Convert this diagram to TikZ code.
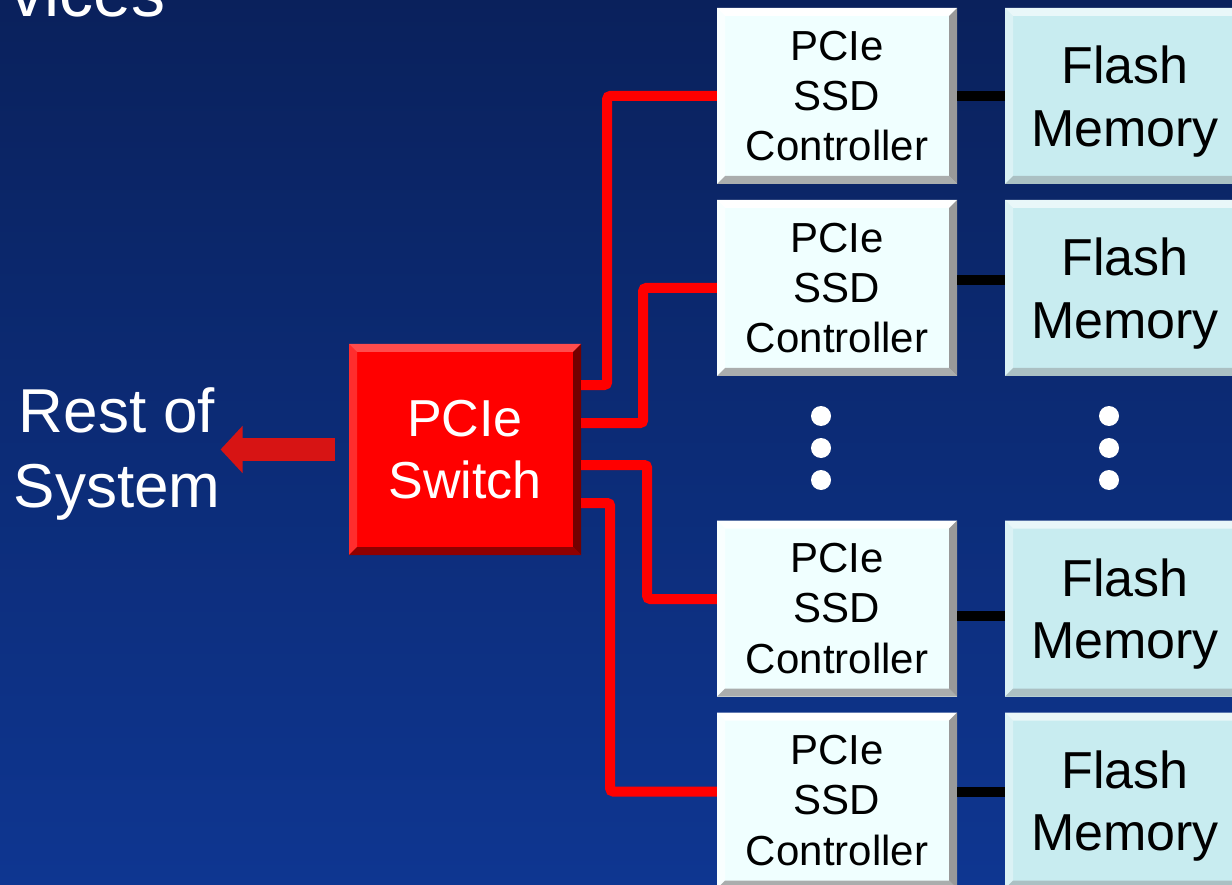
\documentclass[tikz,border=0pt]{standalone}
\usepackage{fontspec}
\setmainfont{Liberation Sans}
\usetikzlibrary{arrows.meta, positioning, calc}
\definecolor{bgtop}{RGB}{10,33,92}
\definecolor{bgbottom}{RGB}{14,54,145}
\definecolor{switchred}{RGB}{255,0,0}
\definecolor{ctrlcolor}{RGB}{240,255,255}
\definecolor{flashcolor}{RGB}{200,236,240}
\definecolor{arrowred}{RGB}{215,20,20}

\begin{document}
\begin{tikzpicture}[
    x=1pt, y=-1pt,
    bevel/.style 2 args={path picture={
        \fill[#1] (path picture bounding box.north west) -- (path picture bounding box.north east)
            -- ([shift={(-8pt,-8pt)}]path picture bounding box.north east)
            -- ([shift={(8pt,-8pt)}]path picture bounding box.north west) -- cycle;
        \fill[#1, opacity=0.6] (path picture bounding box.north west) -- ([shift={(8pt,-8pt)}]path picture bounding box.north west)
            -- ([shift={(8pt,8pt)}]path picture bounding box.south west) -- (path picture bounding box.south west) -- cycle;
        \fill[#2] (path picture bounding box.north east) -- (path picture bounding box.south east)
            -- ([shift={(-8pt,8pt)}]path picture bounding box.south east)
            -- ([shift={(-8pt,-8pt)}]path picture bounding box.north east) -- cycle;
        \fill[#2, opacity=0.8] (path picture bounding box.south west) -- (path picture bounding box.south east)
            -- ([shift={(-8pt,8pt)}]path picture bounding box.south east)
            -- ([shift={(8pt,8pt)}]path picture bounding box.south west) -- cycle;
    }},
    ctrlbox/.style={minimum width=240pt, minimum height=176pt, inner sep=0pt, align=center,
        fill=ctrlcolor, bevel={white}{gray!80}, font=\fontsize{42}{50.4}\selectfont},
    flashbox/.style={ctrlbox, fill=flashcolor, bevel={white!60!flashcolor}{flashcolor!50!gray},
        text depth=0pt, font=\fontsize{52}{62.4}\selectfont},
    switchbox/.style={minimum width=232pt, minimum height=211pt, inner sep=0pt, align=center,
        fill=switchred, bevel={red!70!white}{red!45!black}, text=white, font=\fontsize{52}{62.4}\selectfont},
    pcielink/.style={draw=switchred, line width=10pt, rounded corners=3pt},
    flashlink/.style={draw=black, line width=10pt},
]
    \useasboundingbox (0,0) rectangle (1232,885);
    \fill[top color=bgtop, bottom color=bgbottom] (0,0) rectangle (1232,885);

    \node[anchor=base west, inner sep=0pt, text=white, font=\fontsize{68}{80}\selectfont] (title) at (10,17) {vices};

    \node[switchbox] (sw) at (465,449.5) {PCIe\\Switch};
    \node[inner sep=0pt, align=center, text=white, font=\fontsize{62}{74.4}\selectfont] (rest) at (117,454) {Rest of\\System};
    \draw[arrowred, line width=23pt, -{Triangle[length=22pt, width=46pt]}] ([xshift=-14pt]sw.west) -- (sw.west -| rest.east);

    \foreach \i/\y/\k in {1/96/0, 2/288/8, 3/608.5/-7.5, 4/800.5/9} {
        \node[ctrlbox] (ctrl\i) at (837,\y) {PCIe\\SSD\\Controller};
        \node[flashbox] (flash\i) at (1125,\y) {Flash\\Memory};
        \draw[flashlink] ([yshift=\k pt]ctrl\i.east) -- ([yshift=\k pt]flash\i.west);
    }

    \draw[pcielink] ([yshift=64.5pt]sw.east) -- ++(26,0) |- (ctrl1.west);
    \draw[pcielink] ([yshift=26.5pt]sw.east) -- ++(62,0) |- (ctrl2.west);
    \draw[pcielink] ([yshift=-15.5pt]sw.east) -- ++(66,0) |- ([yshift=9.5pt]ctrl3.west);
    \draw[pcielink] ([yshift=-53.5pt]sw.east) -- ++(29,0) |- ([yshift=9pt]ctrl4.west);

    % more of the same
    \foreach \y in {416,448,480} {
        \fill[white] (821,\y) circle (10pt);
        \fill[white] (1109,\y) circle (10pt);
    }
\end{tikzpicture}
\end{document}
